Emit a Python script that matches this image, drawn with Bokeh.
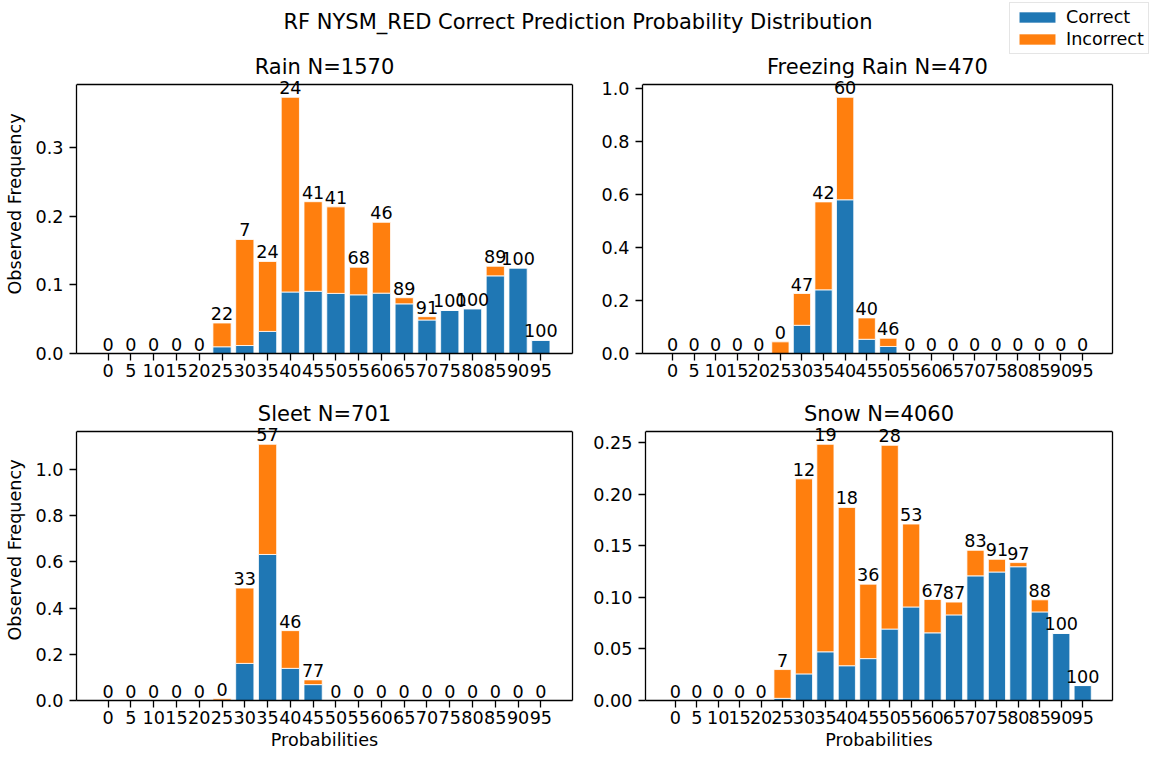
import numpy as np
from bokeh.plotting import figure
from bokeh.core.properties import value
from bokeh.models import (ColumnDataSource, Range1d, FixedTicker, LabelSet, Label, Span,
                          LinearAxis, Legend, LegendItem, NumeralTickFormatter)
from bokeh.layouts import column, row
from bokeh.embed import file_html
from bokeh.resources import INLINE

# ---- data -------------------------------------------------------------
# probability bins (lower edge, %)
bins = [0, 5, 10, 15, 20, 25, 30, 35, 40, 45, 50, 55, 60, 65, 70, 75, 80, 85, 90, 95]
bin_labels = [str(b) for b in bins]

# observed frequency per bin (bar height) and percent of correct predictions
rain_freq = [0, 0, 0, 0, 0, 0.0444, 0.166, 0.134, 0.373, 0.221, 0.2135, 0.1256,
             0.191, 0.0812, 0.0536, 0.0628, 0.0652, 0.127, 0.1246, 0.0193]
rain_pct = [0, 0, 0, 0, 0, 22, 7, 24, 24, 41, 41, 68, 46, 89, 91, 100, 100, 89, 100, 100]

frz_freq = [0, 0, 0, 0, 0, 0.0438, 0.226, 0.571, 0.965, 0.134, 0.0575, 0,
            0, 0, 0, 0, 0, 0, 0, 0]
frz_pct = [0, 0, 0, 0, 0, 0, 47, 42, 60, 40, 46, 0, 0, 0, 0, 0, 0, 0, 0, 0]

sleet_freq = [0, 0, 0, 0, 0, 0.0072, 0.487, 1.1095, 0.3026, 0.0893, 0, 0,
              0, 0, 0, 0, 0, 0, 0, 0]
sleet_pct = [0, 0, 0, 0, 0, 0, 33, 57, 46, 77, 0, 0, 0, 0, 0, 0, 0, 0, 0, 0]

snow_freq = [0, 0, 0, 0, 0, 0.030, 0.2149, 0.2484, 0.1872, 0.1128, 0.2474, 0.1711,
             0.0979, 0.0954, 0.1456, 0.1369, 0.1337, 0.0976, 0.0651, 0.0145]
snow_pct = [0, 0, 0, 0, 0, 7, 12, 19, 18, 36, 28, 53, 67, 87, 83, 91, 97, 88, 100, 100]

rain_yticks = [0.0, 0.1, 0.2, 0.3]
frz_yticks = [0.0, 0.2, 0.4, 0.6, 0.8, 1.0]
sleet_yticks = [0.0, 0.2, 0.4, 0.6, 0.8, 1.0]
snow_yticks = [0.0, 0.05, 0.10, 0.15, 0.20, 0.25]

# ---- style ------------------------------------------------------------
FONT = "DejaVu Sans"
TICK_SIZE = "17.6px"
TITLE_SIZE = "21px"
BLUE = "#1f77b4"
ORANGE = "#ff7f0e"
BAR_W = 0.8
BOX_H = 269          # height of the axes box in px
TITLE_GAP = 17.5     # px from the top of the axes box up to the title's centre
LINE_W = 1.3


def make_panel(title, freq, pct, yticks, yfmt, width, height,
               border_l, border_r, head, border_b, xlabel=None, ylabel=None):
    """One stacked-bar panel.  The plotting frame reaches up through the
    `head` strip above the axes box so that the title and the labels of the
    tallest bars are drawn inside it; the visible box is made of bounded axes
    plus a top rule."""
    n = len(bins)
    idx = list(range(n))
    freq = np.asarray(freq, dtype=float)
    pct = np.asarray(pct, dtype=float)
    correct = freq * pct / 100.0
    incorrect = freq - correct
    src = ColumnDataSource(dict(x=idx, correct=correct, incorrect=incorrect,
                                total=freq, label=[str(int(v)) for v in pct]))

    pad = 0.05 * ((n - 1) + BAR_W)
    x_range = Range1d(-BAR_W / 2 - pad, n - 1 + BAR_W / 2 + pad)
    y_top = 1.05 * freq.max()
    y_range = Range1d(0, y_top * (BOX_H + head) / BOX_H)

    p = figure(width=width, height=height, x_range=x_range, y_range=y_range,
               output_backend="svg", toolbar_location=None,
               min_border_left=border_l, min_border_right=border_r,
               min_border_top=0, min_border_bottom=border_b)
    p.vbar_stack(["correct", "incorrect"], x="x", width=BAR_W, source=src,
                 color=[BLUE, ORANGE], line_color="white", line_width=0.8)

    # percent-correct label on top of every bar
    p.add_layout(LabelSet(x="x", y="total", text="label", source=src,
                          text_align="center", text_baseline="alphabetic",
                          y_offset=3, text_font=value(FONT),
                          text_font_size=value(TICK_SIZE), text_color="black"))

    # subplot title centred above the axes box
    p.add_layout(Label(x=(x_range.start + x_range.end) / 2, y=BOX_H + TITLE_GAP,
                       x_units="data", y_units="screen", text=title,
                       text_align="center", text_baseline="middle",
                       text_font=FONT, text_font_size=TITLE_SIZE,
                       text_color="black"))

    # axes box: bounded left/right axes, bottom axis and a top rule
    p.xaxis.ticker = FixedTicker(ticks=idx)
    p.xaxis.major_label_overrides = {i: bin_labels[i] for i in idx}
    p.yaxis.ticker = FixedTicker(ticks=yticks)
    p.yaxis.formatter = NumeralTickFormatter(format=yfmt)
    p.yaxis.bounds = (0, y_top)

    right = LinearAxis(bounds=(0, y_top), ticker=FixedTicker(ticks=[]),
                       major_tick_in=0, major_tick_out=0, major_label_standoff=0,
                       minor_tick_line_color=None, axis_line_color="black",
                       axis_line_width=LINE_W, major_label_text_font_size="0px")
    p.add_layout(right, "right")
    p.add_layout(Span(location=y_top, dimension="width", line_color="black",
                      line_width=LINE_W))

    for ax in [p.xaxis[0], p.yaxis[0]]:
        ax.major_tick_in = 0
        ax.major_tick_out = 7
        ax.minor_tick_line_color = None
        ax.axis_line_color = "black"
        ax.axis_line_width = LINE_W
        ax.major_tick_line_color = "black"
        ax.major_tick_line_width = LINE_W
        ax.major_label_text_font = FONT
        ax.major_label_text_font_size = TICK_SIZE
        ax.major_label_text_color = "black"
        ax.axis_label_text_font = FONT
        ax.axis_label_text_font_size = TICK_SIZE
        ax.axis_label_text_font_style = "normal"
        ax.axis_label_text_color = "black"
    p.xaxis[0].major_label_standoff = 3
    p.yaxis[0].major_label_standoff = 6
    p.xaxis[0].axis_label_standoff = 3
    p.yaxis[0].axis_label_standoff = 8
    if xlabel:
        p.xaxis[0].axis_label = xlabel
    if ylabel:
        p.yaxis[0].axis_label = ylabel

    p.grid.visible = False
    p.outline_line_color = None
    p.background_fill_color = "white"
    p.border_fill_color = "white"
    return p, src


# ---- panels -----------------------------------------------------------
p_rain, rain_src = make_panel("Rain N=1570", rain_freq, rain_pct, rain_yticks, "0.0",
                              590, 345, 76, 18, 30, 46, ylabel="Observed Frequency")
p_frz, _ = make_panel("Freezing Rain N=470", frz_freq, frz_pct, frz_yticks, "0.0",
                      565, 345, 52, 43, 30, 46)
p_sleet, _ = make_panel("Sleet N=701", sleet_freq, sleet_pct, sleet_yticks, "0.0",
                        590, 360, 76, 18, 32, 59, xlabel="Probabilities",
                        ylabel="Observed Frequency")
p_snow, _ = make_panel("Snow N=4060", snow_freq, snow_pct, snow_yticks, "0.00",
                       565, 360, 52, 43, 32, 59, xlabel="Probabilities")

# ---- header: figure title and shared legend -----------------------------
HEADER_H = 54
header = figure(width=1155, height=HEADER_H, x_range=Range1d(0, 1), y_range=Range1d(0, 1),
                output_backend="svg", toolbar_location=None,
                x_axis_location=None, y_axis_location=None,
                min_border_left=0, min_border_right=0,
                min_border_top=0, min_border_bottom=0)
header.outline_line_color = None
header.grid.visible = False

# hidden copies of the stacked bars, only used as legend swatches
r_ok, r_bad = header.vbar_stack(["correct", "incorrect"], x="x", width=BAR_W,
                                source=rain_src, color=[BLUE, ORANGE],
                                line_color="white", line_width=0.8, visible=False)

header.add_layout(Label(x=577.5, y=HEADER_H - 21, x_units="screen", y_units="screen",
                        text="RF NYSM_RED Correct Prediction Probability Distribution",
                        text_align="center", text_baseline="middle",
                        text_font=FONT, text_font_size=TITLE_SIZE, text_color="black"))

legend = Legend(items=[LegendItem(label="Correct", renderers=[r_ok]),
                       LegendItem(label="Incorrect", renderers=[r_bad])],
                location=(1009, 0), orientation="vertical",
                padding=4, spacing=2, margin=0,
                glyph_width=46, glyph_height=14, label_standoff=6,
                label_text_font=FONT, label_text_font_size=TICK_SIZE,
                label_text_color="black",
                inactive_fill_alpha=0.0,
                border_line_color="#cccccc", border_line_width=1,
                background_fill_color="white", background_fill_alpha=0.8)
header.add_layout(legend, "center")

layout = column(header, row(p_rain, p_frz), row(p_sleet, p_snow))

with open("out.html", "w") as f:
    f.write(file_html(layout, INLINE))
